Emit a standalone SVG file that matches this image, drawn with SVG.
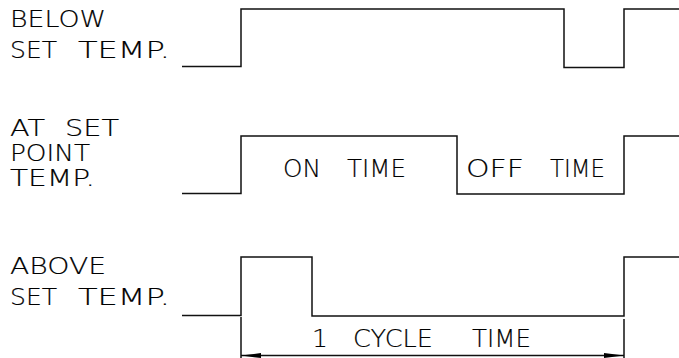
<svg xmlns="http://www.w3.org/2000/svg" width="679" height="358" viewBox="0 0 679 358">
<style>
.w{fill:none;stroke:#111;stroke-width:1.5}
.l,.i{font-family:"DejaVu Sans","Liberation Sans",sans-serif;font-weight:200;fill:#000;stroke:#000;stroke-width:0.2}
.l{font-size:23px}
.i{font-size:25px}
</style>
<defs>
<marker id="ah" viewBox="0 0 20 5" refX="20" refY="2.5" markerWidth="20" markerHeight="5" markerUnits="userSpaceOnUse" orient="auto-start-reverse">
<path d="M0,0 L20,2.5 L0,5 Z" fill="#000"/>
</marker>
</defs>
<g id="label-below">
<text class="l" x="10" y="27" textLength="96" lengthAdjust="spacingAndGlyphs">BELOW</text>
<text class="l" x="10" y="58"><tspan x="10" textLength="47" lengthAdjust="spacingAndGlyphs">SET</tspan><tspan x="78" textLength="92" lengthAdjust="spacingAndGlyphs">TEMP.</tspan></text>
</g>
<g id="label-at">
<text class="l" x="10" y="136"><tspan x="10" textLength="35" lengthAdjust="spacingAndGlyphs">AT</tspan><tspan x="65" textLength="54" lengthAdjust="spacingAndGlyphs">SET</tspan></text>
<text class="l" x="10" y="161" textLength="80" lengthAdjust="spacingAndGlyphs">POINT</text>
<text class="l" x="10" y="186" textLength="85" lengthAdjust="spacingAndGlyphs">TEMP.</text>
</g>
<g id="label-above">
<text class="l" x="10" y="274" textLength="96" lengthAdjust="spacingAndGlyphs">ABOVE</text>
<text class="l" x="10" y="305"><tspan x="10" textLength="47" lengthAdjust="spacingAndGlyphs">SET</tspan><tspan x="78" textLength="92" lengthAdjust="spacingAndGlyphs">TEMP.</tspan></text>
</g>
<g id="connectors">
<path class="w" d="M182,66.5 H241 V9 H564 V67.5 H624 V9 H679"/>
<path class="w" d="M182,193.5 H241 V136 H457 V194 H624 V136 H679"/>
<path class="w" d="M182,315.5 H241 V257 H312 V316 H624 V257 H679"/>
<path class="w" d="M241,317 V358"/>
<path class="w" d="M624,319 V358"/>
<path class="w" d="M241,355.5 H624" marker-start="url(#ah)" marker-end="url(#ah)"/>
</g>
<g id="label-on">
<text class="i" y="177"><tspan x="283" textLength="38" lengthAdjust="spacingAndGlyphs">ON</tspan><tspan x="347" textLength="59" lengthAdjust="spacingAndGlyphs">TIME</tspan></text>
</g>
<g id="label-off">
<text class="i" y="177"><tspan x="466" textLength="58" lengthAdjust="spacingAndGlyphs">OFF</tspan><tspan x="550" textLength="55" lengthAdjust="spacingAndGlyphs">TIME</tspan></text>
</g>
<g id="label-cycle">
<text class="i" y="347"><tspan x="312">1</tspan><tspan x="353" textLength="80" lengthAdjust="spacingAndGlyphs">CYCLE</tspan><tspan x="472" textLength="59" lengthAdjust="spacingAndGlyphs">TIME</tspan></text>
</g>
</svg>
